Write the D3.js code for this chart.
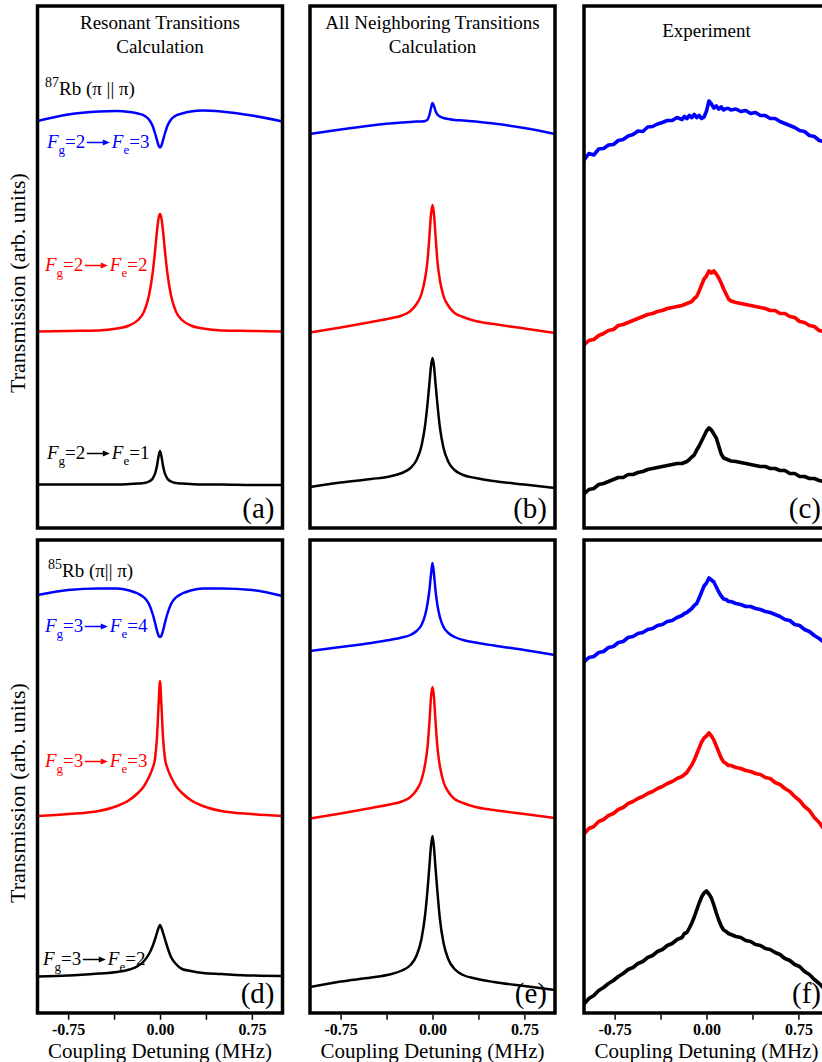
<!DOCTYPE html>
<html>
<head>
<meta charset="utf-8">
<script src="https://cdn.jsdelivr.net/npm/d3@7"></script>
<style>
	body { margin: 0; background: #fff; }
	svg { display: block; }
	text { font-family: "Liberation Serif", "Times New Roman", serif; }
</style>
</head>
<body>
<svg id="chart" width="822" height="1062"></svg>
<script>
// Coupling detuning (MHz) where the calculated curves were read
var calcX = [-1, -0.75, -0.5, -0.35, -0.25, -0.18, -0.13, -0.09, -0.06, -0.04, -0.025, -0.012, 0,
	0.012, 0.025, 0.04, 0.06, 0.09, 0.13, 0.18, 0.25, 0.35, 0.5, 0.75, 1];

// Coupling detuning (MHz) where the measured traces were read
var exptX = [-1.00, -0.96, -0.92, -0.88, -0.84, -0.80, -0.76, -0.72, -0.68, -0.64, -0.60, -0.56, -0.52,
	-0.48, -0.44, -0.40, -0.36, -0.32, -0.28, -0.24, -0.20,
	-0.18, -0.16, -0.14, -0.12, -0.10, -0.08, -0.06, -0.04, -0.02, 0.00, 0.02, 0.04, 0.06, 0.08, 0.10,
	0.12, 0.14, 0.16, 0.18, 0.20,
	0.24, 0.28, 0.32, 0.36, 0.40, 0.44, 0.48, 0.52, 0.56, 0.60, 0.64, 0.68, 0.72, 0.76, 0.80, 0.84,
	0.88, 0.92, 0.96, 1.00];

// (a) 87Rb, resonant transitions only (arb. units)
var resA_Fe3 = [81.4, 82.7, 83.3, 83.4, 83.2, 82.9, 82.5, 81.7, 80.4, 78.9, 77.6, 76.5, 76.1,
	76.5, 77.6, 78.9, 80.4, 81.7, 82.5, 82.9, 83.3, 83.5, 83.3, 82.5, 81.3];
var resA_Fe2 = [39.3, 39.4, 39.5, 39.9, 40.5, 41.6, 43.3, 46.5, 51.0, 55.5, 59.3, 61.9, 62.8,
	61.9, 59.3, 55.5, 51.0, 46.5, 43.3, 41.6, 40.5, 39.9, 39.5, 39.4, 39.3];
var resA_Fe1 = [8.7, 8.7, 8.7, 8.7, 8.8, 8.9, 9.0, 9.3, 9.9, 10.9, 12.4, 14.3, 15.4,
	14.3, 12.4, 10.9, 9.9, 9.3, 9.0, 8.9, 8.8, 8.7, 8.7, 8.6, 8.6];

// (b) 87Rb, all neighboring transitions
var allB_Fe3 = [78.8, 79.7, 80.5, 80.9, 81.1, 81.2, 81.3, 81.3, 81.4, 81.7, 82.6, 84.0, 85.0,
	84.4, 83.4, 82.7, 82.3, 82.0, 81.8, 81.6, 81.5, 81.3, 80.9, 80.0, 78.8];
var allB_Fe2 = [39.1, 40.1, 41.2, 41.9, 42.5, 43.4, 44.8, 46.8, 50.0, 53.6, 58.4, 62.8, 64.6,
	62.8, 58.4, 53.4, 49.6, 46.4, 44.4, 43.0, 42.2, 41.4, 40.8, 39.9, 39.0];
var allB_Fe1 = [8.2, 9.1, 9.8, 10.3, 11.0, 12.0, 13.6, 16.4, 20.6, 25.0, 29.0, 32.4, 34.0,
	32.4, 28.8, 24.8, 20.2, 16.0, 13.2, 11.6, 10.6, 10.0, 9.4, 8.7, 8.0];

// (c) 87Rb, experiment
var expC_Fe3 = [73.6, 74.9, 74.6, 75.8, 75.9, 76.6, 76.7, 77.5, 77.7, 78.4, 78.7, 79.4, 79.3, 80.2, 80.3, 80.8, 81.1, 81.5, 81.5, 82.1, 81.7,
	82.3, 81.9, 82.5, 82.1, 82.7, 82.1, 82.5, 81.9, 82.2, 83.4, 85.4, 84.8, 84.0, 84.4, 83.8, 84.2, 83.6, 83.9, 83.9, 83.6,
	83.8, 83.3, 83.5, 82.9, 83.1, 82.5, 82.5, 81.9, 81.9, 81.3, 80.9, 80.5, 80.1, 79.5, 79.3, 78.5, 78.3, 77.5, 77.3, 76.6];
var expC_Fe2 = [36.6, 37.5, 37.7, 38.5, 38.9, 39.5, 39.7, 40.5, 40.7, 41.1, 41.5, 41.9, 42.3, 42.7, 42.9, 43.3, 43.5, 43.9, 44.1, 44.3, 44.5,
	44.7, 44.9, 45.1, 45.3, 45.9, 46.3, 47.4, 48.6, 49.8, 50.4, 51.4, 51.0, 51.4, 50.8, 50.0, 49.0, 47.8, 46.8, 45.8, 45.4,
	45.1, 44.9, 44.7, 44.5, 44.3, 44.1, 43.9, 43.5, 43.5, 42.9, 42.9, 42.3, 42.1, 41.3, 41.1, 40.5, 40.3, 39.5, 39.3, 38.8];
var expC_Fe1 = [6.8, 7.7, 7.9, 8.7, 8.9, 9.3, 9.7, 10.1, 10.1, 10.7, 10.7, 11.1, 11.3, 11.7, 11.9, 12.1, 12.3, 12.5, 12.7, 12.9, 12.9,
	13.1, 13.3, 13.7, 14.2, 14.6, 15.6, 16.4, 17.4, 18.4, 19.4, 20.0, 19.6, 18.8, 18.0, 16.4, 14.8, 14.0, 13.8, 13.6, 13.4,
	13.3, 13.1, 12.9, 12.7, 12.5, 12.3, 12.3, 11.9, 11.9, 11.5, 11.5, 10.9, 10.9, 10.3, 10.3, 9.9, 9.9, 9.5, 9.3, 9.0];

// (d) 85Rb, resonant transitions only
var resD_Fe4 = [83.6, 84.6, 84.9, 84.9, 84.5, 83.9, 83.1, 81.8, 79.8, 78.0, 76.5, 75.5, 75.2,
	75.5, 76.5, 78.0, 79.8, 81.8, 83.1, 83.9, 84.5, 84.9, 84.9, 84.6, 83.4];
var resD_Fe3 = [39.4, 39.8, 40.4, 41.4, 42.6, 44.0, 45.4, 47.2, 49.0, 51.0, 55.0, 61.4, 66.4,
	61.4, 55.0, 51.0, 49.0, 47.2, 45.4, 44.0, 42.6, 41.4, 40.4, 39.8, 39.4];
var resD_Fe2 = [7.3, 7.5, 7.9, 8.2, 8.7, 9.4, 10.4, 11.8, 13.4, 14.8, 16.0, 17.0, 17.6,
	17.0, 16.0, 14.8, 13.2, 11.2, 9.8, 8.8, 8.4, 8.0, 7.8, 7.5, 7.4];

// (e) 85Rb, all neighboring transitions
var allE_Fe4 = [72.4, 73.2, 74.0, 74.6, 75.1, 75.6, 76.4, 77.6, 79.6, 82.0, 84.6, 87.8, 90.0,
	87.8, 84.4, 81.6, 79.2, 77.2, 76.0, 75.2, 74.6, 74.1, 73.5, 72.6, 71.6];
var allE_Fe3 = [38.9, 39.9, 41.0, 41.7, 42.3, 43.2, 44.6, 46.6, 49.8, 53.4, 58.2, 63.2, 65.2,
	63.2, 58.2, 53.2, 49.4, 46.2, 44.2, 42.8, 42.0, 41.2, 40.6, 39.8, 39.0];
var allE_Fe2 = [5.2, 6.3, 7.1, 7.7, 8.5, 9.6, 11.5, 14.8, 19.7, 24.8, 29.5, 33.5, 35.4,
	33.1, 28.9, 24.3, 18.9, 14.0, 10.7, 8.8, 7.6, 6.9, 6.2, 5.4, 4.6];

// (f) 85Rb, experiment
var expF_Fe4 = [70.2, 71.1, 71.3, 72.1, 72.3, 73.1, 73.3, 74.1, 74.3, 75.1, 75.3, 75.9, 76.1, 76.7, 76.9, 77.5, 77.7, 78.3, 78.5, 79.1, 79.5,
	79.9, 80.1, 80.5, 80.9, 81.5, 81.9, 83.0, 84.2, 85.4, 86.0, 87.0, 86.6, 86.2, 85.2, 84.2, 83.4, 82.8, 82.7, 82.3, 82.3,
	81.9, 81.7, 81.3, 81.3, 80.9, 80.7, 80.3, 80.1, 79.7, 79.3, 78.7, 78.5, 77.7, 77.5, 76.7, 76.3, 75.5, 74.9, 74.1, 73.6];
var expF_Fe3 = [35.8, 36.9, 37.3, 38.3, 38.7, 39.5, 39.9, 40.7, 41.1, 41.9, 42.3, 42.9, 43.3, 43.9, 44.3, 44.9, 45.3, 45.9, 46.3, 46.9, 47.3,
	47.7, 48.1, 48.9, 49.6, 50.6, 51.8, 53.0, 54.2, 55.0, 55.4, 56.0, 55.4, 54.6, 53.4, 52.2, 51.0, 50.2, 49.9, 49.5, 49.5,
	49.1, 48.9, 48.5, 48.3, 47.9, 47.7, 47.1, 46.9, 46.1, 45.7, 44.9, 44.3, 43.3, 42.5, 41.3, 40.5, 39.1, 38.1, 36.7, 35.6];
var expF_Fe2 = [1.8, 2.9, 3.5, 4.5, 5.1, 5.9, 6.5, 7.3, 7.9, 8.7, 9.1, 9.9, 10.3, 11.1, 11.5, 12.3, 12.7, 13.5, 13.9, 14.7, 15.1,
	15.9, 16.1, 17.0, 18.0, 19.2, 20.6, 22.0, 23.2, 24.0, 24.4, 23.8, 23.0, 21.6, 20.0, 18.6, 17.4, 16.6, 16.3, 15.9, 15.7,
	15.3, 15.1, 14.5, 14.3, 13.7, 13.5, 12.9, 12.7, 12.1, 11.7, 10.9, 10.5, 9.7, 9.3, 8.3, 7.7, 6.7, 5.9, 4.9, 4.2];

// Panel texts
var colTitles = [["Resonant Transitions", "Calculation"], ["All Neighboring Transitions", "Calculation"], ["Experiment"]];
var panelLetters = [["(a)", "(b)", "(c)"], ["(d)", "(e)", "(f)"]];
var isotopes = ["87", "85"];
var isoRest = ["Rb (\u03c0 || \u03c0)", "Rb (\u03c0|| \u03c0)"];
var majorTicks = [-0.75, 0, 0.75];
var allTicks = [-0.75, -0.375, 0, 0.375, 0.75];

var blue = "#0000ff", red = "#ff0000", black = "#000000";

// Layout
var colLeft = [37.5, 310, 584],
	panelW = 245,
	rowTop = [6, 540],
	rowH = [522, 473],
	yMax = [104.4, 94.6];

var svg = d3.select("#chart");

var x = d3.scaleLinear().domain([-1, 1]);

function zip(xs, ys) {
	return xs.map(function(d, i) { return [d, ys[i]]; });
}

// panel contents: [row][col] -> list of traces
var panels = [
	[
		[{y: resA_Fe3, c: blue}, {y: resA_Fe2, c: red}, {y: resA_Fe1, c: black}],
		[{y: allB_Fe3, c: blue}, {y: allB_Fe2, c: red}, {y: allB_Fe1, c: black}],
		[{y: expC_Fe3, c: blue, exp: true}, {y: expC_Fe2, c: red, exp: true}, {y: expC_Fe1, c: black, exp: true}]
	],
	[
		[{y: resD_Fe4, c: blue}, {y: resD_Fe3, c: red}, {y: resD_Fe2, c: black}],
		[{y: allE_Fe4, c: blue}, {y: allE_Fe3, c: red}, {y: allE_Fe2, c: black}],
		[{y: expF_Fe4, c: blue, exp: true}, {y: expF_Fe3, c: red, exp: true}, {y: expF_Fe2, c: black, exp: true}]
	]
];

panels.forEach(function(row, r) {
	row.forEach(function(traces, c) {
		var x0 = colLeft[c], y0 = rowTop[r], h = rowH[r];
		var xs = x.copy().range([x0, x0 + panelW]);
		var ys = d3.scaleLinear().domain([0, yMax[r]]).range([y0 + h, y0]);
		var id = "clip" + r + c;

		svg.append("clipPath").attr("id", id)
			.append("rect").attr("x", x0).attr("y", y0).attr("width", panelW).attr("height", h);

		var g = svg.append("g").attr("clip-path", "url(#" + id + ")");
		var line = d3.line()
			.x(function(d) { return xs(d[0]); })
			.y(function(d) { return ys(d[1]); });

		traces.forEach(function(t) {
			var l = t.exp ? line.curve(d3.curveLinear) : line.curve(d3.curveMonotoneX);
			g.append("path")
				.datum(zip(t.exp ? exptX : calcX, t.y))
				.attr("d", l)
				.attr("fill", "none")
				.attr("stroke", t.c)
				.attr("stroke-width", t.exp ? 3.6 : 2.5)
				.attr("stroke-linejoin", "round");
		});

		// frame
		svg.append("rect")
			.attr("x", x0).attr("y", y0).attr("width", panelW).attr("height", h)
			.attr("fill", "none").attr("stroke", "#000").attr("stroke-width", 3.5);

		// panel letter
		svg.append("text")
			.attr("x", x0 + panelW - 8).attr("y", y0 + h - 10)
			.attr("text-anchor", "end")
			.style("font-size", "29px")
			.text(panelLetters[r][c]);

		// x axis on bottom row only
		if (r == 1) {
			var axis = d3.axisBottom(xs)
				.tickValues(allTicks)
				.tickSize(5)
				.tickSizeOuter(0)
				.tickPadding(4)
				.tickFormat(function(d) { return majorTicks.indexOf(d) >= 0 ? d.toFixed(2) : ""; });
			var ag = svg.append("g")
				.attr("transform", "translate(0," + (y0 + h + 1.75) + ")")
				.call(axis);
			ag.select(".domain").remove();
			ag.selectAll(".tick line").attr("stroke-width", 1.5);
			ag.selectAll(".tick text")
				.style("font-family", "'Liberation Serif', serif")
				.style("font-size", "16px")
				.style("font-weight", "bold");

			svg.append("text")
				.attr("x", x0 + panelW / 2).attr("y", 1058)
				.attr("text-anchor", "middle")
				.style("font-size", "21px")
				.text("Coupling Detuning (MHz)");
		}
	});
});

// column titles
colTitles.forEach(function(lines, c) {
	var cx = colLeft[c] + panelW / 2;
	var base = lines.length > 1 ? 29 : 37;
	lines.forEach(function(s, i) {
		svg.append("text")
			.attr("x", cx).attr("y", base + i * 24)
			.attr("text-anchor", "middle")
			.style("font-size", "19px")
			.text(s);
	});
});

// y labels
[283, 793].forEach(function(cy) {
	svg.append("text")
		.attr("transform", "translate(25," + cy + ") rotate(-90)")
		.attr("text-anchor", "middle")
		.style("font-size", "22px")
		.text("Transmission (arb. units)");
});

// isotope labels
[[45, 95], [48, 577]].forEach(function(p, i) {
	var t = svg.append("text").attr("x", p[0]).attr("y", p[1]).style("font-size", "19px");
	t.append("tspan").attr("dy", -8).style("font-size", "14px").text(isotopes[i]);
	t.append("tspan").attr("dy", 8).text(isoRest[i]);
});

// transition labels: F_g = a -> F_e = b
function transLabel(px, py, color, fg, fe) {
	var t1 = svg.append("text").attr("x", px).attr("y", py).attr("fill", color).style("font-size", "19px");
	t1.append("tspan").style("font-style", "italic").text("F");
	t1.append("tspan").attr("dy", 6).style("font-size", "13px").text("g");
	t1.append("tspan").attr("dy", -6).text("=" + fg);
	var w = t1.node().getComputedTextLength();

	var a0 = px + w + 1.5, a1 = a0 + 23, ay = py - 5.5;
	svg.append("line")
		.attr("x1", a0).attr("y1", ay).attr("x2", a1 - 6).attr("y2", ay)
		.attr("stroke", color).attr("stroke-width", 1.5);
	svg.append("path")
		.attr("d", "M" + (a1 - 7) + "," + (ay - 3) + "L" + a1 + "," + ay + "L" + (a1 - 7) + "," + (ay + 3) + "Z")
		.attr("fill", color);

	var t2 = svg.append("text").attr("x", a1 + 2).attr("y", py).attr("fill", color).style("font-size", "19px");
	t2.append("tspan").style("font-style", "italic").text("F");
	t2.append("tspan").attr("dy", 6).style("font-size", "13px").text("e");
	t2.append("tspan").attr("dy", -6).text("=" + fe);
}

transLabel(47, 148, blue, 2, 3);
transLabel(45, 271, red, 2, 2);
transLabel(47, 459, black, 2, 1);
transLabel(45, 632, blue, 3, 4);
transLabel(45, 767, red, 3, 3);
transLabel(43, 965, black, 3, 2);
</script>
</body>
</html>
